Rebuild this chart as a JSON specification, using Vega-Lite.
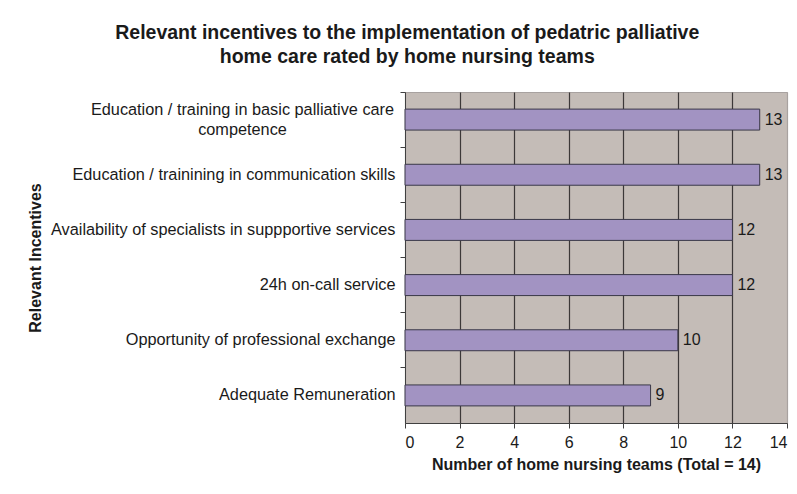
{
  "$schema": "https://vega.github.io/schema/vega-lite/v6.json",
  "width": 382,
  "height": 331,
  "autosize": {"type": "none"},
  "padding": {"left": 405, "top": 92, "right": 10, "bottom": 71},
  "background": "white",
  "title": {
    "text": ["Relevant incentives to the implementation of pedatric palliative", "home care rated by home nursing teams"],
    "font": "Liberation Sans",
    "fontSize": 19.5,
    "fontWeight": "bold",
    "color": "#1a1a1a",
    "anchor": "middle",
    "frame": "bounds",
    "lineHeight": 24,
    "offset": 24
  },
  "config": {
    "view": {"fill": "#c4bcb7", "stroke": "#a8a2a0", "strokeWidth": 1},
    "font": "Liberation Sans"
  },
  "data": {
    "values": [
      {"incentive": "Education / training in basic palliative care competence", "teams": 13},
      {"incentive": "Education / trainining in communication skills", "teams": 13},
      {"incentive": "Availability of specialists in suppportive services", "teams": 12},
      {"incentive": "24h on-call service", "teams": 12},
      {"incentive": "Opportunity of professional exchange", "teams": 10},
      {"incentive": "Adequate Remuneration", "teams": 9}
    ]
  },
  "encoding": {
    "y": {
      "field": "incentive",
      "type": "nominal",
      "sort": null,
      "scale": {"paddingInner": 0, "paddingOuter": 0},
      "axis": {
        "title": "Relevant Incentives",
        "titleFont": "Liberation Sans",
        "titleFontSize": 16,
        "titleFontWeight": "bold",
        "titleColor": "#1a1a1a",
        "titleX": -362,
        "labelFont": "Liberation Sans",
        "labelFontSize": 16.3,
        "labelColor": "#1a1a1a",
        "labelPadding": {"condition": {"test": "datum.value == 'Education / training in basic palliative care competence'", "value": 158}, "value": 5},
        "labelAlign": {"condition": {"test": "datum.value == 'Education / training in basic palliative care competence'", "value": "center"}, "value": "right"},
        "labelLimit": 500,
        "labelLineHeight": 20,
        "labelOffset": {"condition": {"test": "datum.value == 'Education / training in basic palliative care competence'", "value": -10}, "value": 0},
        "labelExpr": "datum.value == 'Education / training in basic palliative care competence' ? ['Education / training in basic palliative care', 'competence'] : datum.label",
        "bandPosition": 0,
        "tickSize": 5,
        "tickColor": "#404040",
        "domainColor": "#404040",
        "grid": false
      }
    }
  },
  "layer": [
    {
      "mark": {"type": "bar", "height": {"band": 0.38}, "fill": "#a293c2", "stroke": "#3a3848", "strokeWidth": 1},
      "encoding": {
        "x": {
          "field": "teams",
          "type": "quantitative",
          "scale": {"domain": [0, 14], "nice": false},
          "axis": {
            "title": "Number of home nursing teams (Total = 14)",
            "titleFont": "Liberation Sans",
            "titleFontSize": 16,
            "titleFontWeight": "bold",
            "titleColor": "#1a1a1a",
            "titlePadding": 6,
            "values": [0, 2, 4, 6, 8, 10, 12, 14],
            "labelFont": "Liberation Sans",
            "labelFontSize": 16,
            "labelColor": "#1a1a1a",
            "labelPadding": 6,
            "tickSize": 5,
            "tickColor": "#404040",
            "domainColor": "#404040",
            "grid": true,
            "gridColor": {"condition": {"test": "datum.value == 14 || datum.value == 0", "value": "#a8a2a0"}, "value": "#3c3838"},
            "gridWidth": 1.2
          }
        }
      }
    },
    {
      "mark": {"type": "text", "align": "left", "dx": 5, "font": "Liberation Sans", "fontSize": 16, "color": "#1a1a1a"},
      "encoding": {
        "x": {"field": "teams", "type": "quantitative"},
        "text": {"field": "teams", "type": "quantitative"}
      }
    }
  ]
}
